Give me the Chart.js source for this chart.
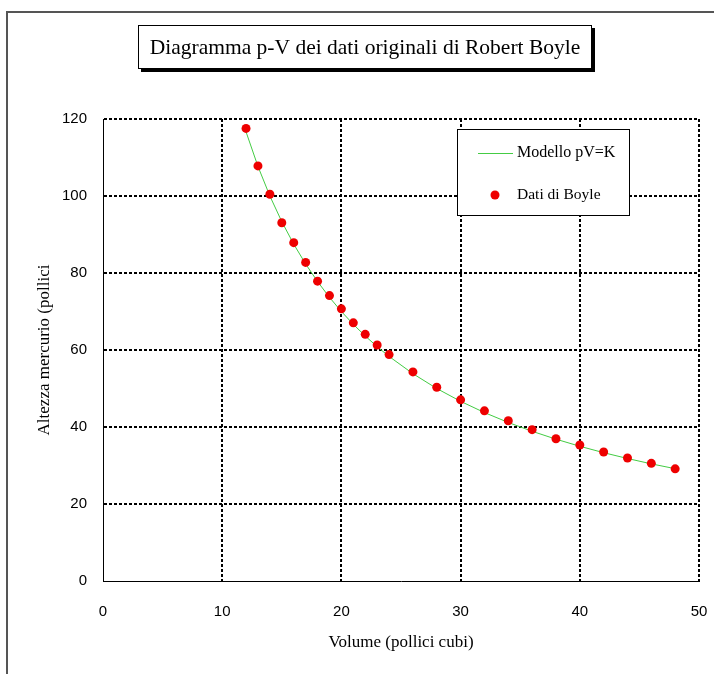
<!DOCTYPE html>
<html>
<head>
<meta charset="utf-8">
<script src="https://cdn.jsdelivr.net/npm/chart.js@4/dist/chart.umd.min.js"></script>
<style>
html,body{margin:0;padding:0;background:#fff;}
#wrap{width:714px;height:674px;position:relative;}
</style>
</head>
<body>
<div id="wrap"><canvas id="c" width="714" height="674"></canvas></div>
<script>
// ---- data ----
const volumes = [12,13,14,15,16,17,18,19,20,21,22,23,24,26,28,30,32,34,36,38,40,42,44,46,48];
const boylePressure = [117.56,107.81,100.44,93.06,87.88,82.75,77.88,74.13,70.69,67.06,64.06,61.31,58.81,54.31,50.31,47.06,44.19,41.63,39.31,36.94,35.31,33.50,31.94,30.56,29.13];
const modelPressure = [116.67,107.69,100.00,93.33,87.50,82.35,77.78,73.68,70.00,66.67,63.64,60.87,58.33,53.85,50.00,46.67,43.75,41.18,38.89,36.84,35.00,33.33,31.82,30.43,29.17];
const xTicks = [0,10,20,30,40,50];
const yTicks = [0,20,40,60,80,100,120];
const chartTitle = 'Diagramma p-V dei dati originali di Robert Boyle';
const xTitle = 'Volume (pollici cubi)';
const yTitle = 'Altezza mercurio (pollici';
const modelLabel = 'Modello pV=K';
const dataLabel = 'Dati di Boyle';

const SERIF = '"Liberation Serif","Times New Roman",serif';
const TICKFONT = '"Liberation Sans",Arial,sans-serif';

function drawText(ctx, text, x, y, size, align, rot) {
  ctx.save();
  ctx.font = size + 'px ' + SERIF;
  ctx.translate(x, y);
  if (rot) ctx.rotate(rot);
  ctx.textAlign = align;
  ctx.textBaseline = 'middle';
  ctx.fillStyle = '#000';
  ctx.fillText(text, 0, 0);
  ctx.restore();
}

const decor = {
  id: 'decor',
  beforeDraw(chart) {
    const ctx = chart.ctx;
    ctx.save();
    ctx.fillStyle = '#fff';
    ctx.fillRect(0, 0, chart.width, chart.height);
    ctx.restore();
  },
  afterDraw(chart) {
    const ctx = chart.ctx;
    const ds = chart.data.datasets;
    const ca = chart.chartArea;
    ctx.save();
    // outer frame
    ctx.strokeStyle = '#555';
    ctx.lineWidth = 2;
    ctx.beginPath();
    ctx.moveTo(7, 700); ctx.lineTo(7, 12); ctx.lineTo(720, 12);
    ctx.stroke();
    // title box with shadow
    ctx.fillStyle = '#000';
    ctx.fillRect(141, 28, 454, 44);
    ctx.fillStyle = '#fff';
    ctx.fillRect(138, 25, 454, 44);
    ctx.strokeStyle = '#000';
    ctx.lineWidth = 1;
    ctx.strokeRect(138.5, 25.5, 453, 43);
    drawText(ctx, chartTitle, 365, 48, 21.5, 'center');
    // axis titles
    drawText(ctx, xTitle, (ca.left + ca.right) / 2, 643, 17, 'center');
    drawText(ctx, yTitle, 45, (ca.top + ca.bottom) / 2, 17, 'center', -Math.PI / 2);
    // legend
    ctx.fillStyle = '#fff';
    ctx.fillRect(457, 129, 173, 87);
    ctx.strokeStyle = '#000';
    ctx.lineWidth = 1;
    ctx.strokeRect(457.5, 129.5, 172, 86);
    ctx.strokeStyle = ds[0].borderColor;
    ctx.lineWidth = ds[0].borderWidth;
    ctx.beginPath();
    ctx.moveTo(478, 153.5); ctx.lineTo(513, 153.5);
    ctx.stroke();
    drawText(ctx, modelLabel, 517, 153, 16, 'left');
    ctx.fillStyle = ds[1].backgroundColor;
    ctx.beginPath();
    ctx.arc(495, 195, ds[1].pointRadius, 0, Math.PI * 2);
    ctx.fill();
    drawText(ctx, dataLabel, 517, 195, 15.5, 'left');
    ctx.restore();
  }
};

const gridColor = (c) => (c.tick && c.tick.value === 0) ? 'rgba(0,0,0,0)' : '#000';

new Chart(document.getElementById('c'), {
  type: 'scatter',
  data: {
    datasets: [
      {
        label: modelLabel,
        type: 'line',
        data: volumes.map((v, i) => ({x: v, y: modelPressure[i]})),
        borderColor: '#44cc44',
        borderWidth: 1,
        pointRadius: 0,
        showLine: true,
        fill: false,
        tension: 0,
        order: 2
      },
      {
        label: dataLabel,
        data: volumes.map((v, i) => ({x: v, y: boylePressure[i]})),
        backgroundColor: '#ee0000',
        borderColor: '#ee0000',
        borderWidth: 0,
        pointRadius: 4.5,
        pointHoverRadius: 4.5,
        order: 1
      }
    ]
  },
  plugins: [decor],
  options: {
    responsive: false,
    animation: false,
    devicePixelRatio: 1,
    layout: {padding: {left: 0, top: 119, right: 15, bottom: 0}},
    plugins: {legend: {display: false}, title: {display: false}, tooltip: {enabled: false}},
    scales: {
      x: {
        type: 'linear',
        min: 0, max: 50,
        afterBuildTicks: (s) => { s.ticks = xTicks.map(v => ({value: v})); },
        afterFit: (s) => { s.height = 93; s.paddingLeft = 0; s.paddingRight = 0; },
        grid: {color: gridColor, lineWidth: 2, drawTicks: false},
        border: {display: true, color: '#000', width: 1, dash: [3, 2]},
        ticks: {padding: 22, color: '#000', font: {family: TICKFONT, size: 15}}
      },
      y: {
        type: 'linear',
        min: 0, max: 120,
        afterBuildTicks: (s) => { s.ticks = yTicks.map(v => ({value: v})); },
        afterFit: (s) => { s.width = 103; s.paddingTop = 0; s.paddingBottom = 0; },
        grid: {color: gridColor, lineWidth: 2, drawTicks: false},
        border: {display: true, color: '#000', width: 1, dash: [3, 2]},
        ticks: {padding: 16, color: '#000', font: {family: TICKFONT, size: 15}}
      }
    }
  }
});
</script>
</body>
</html>
